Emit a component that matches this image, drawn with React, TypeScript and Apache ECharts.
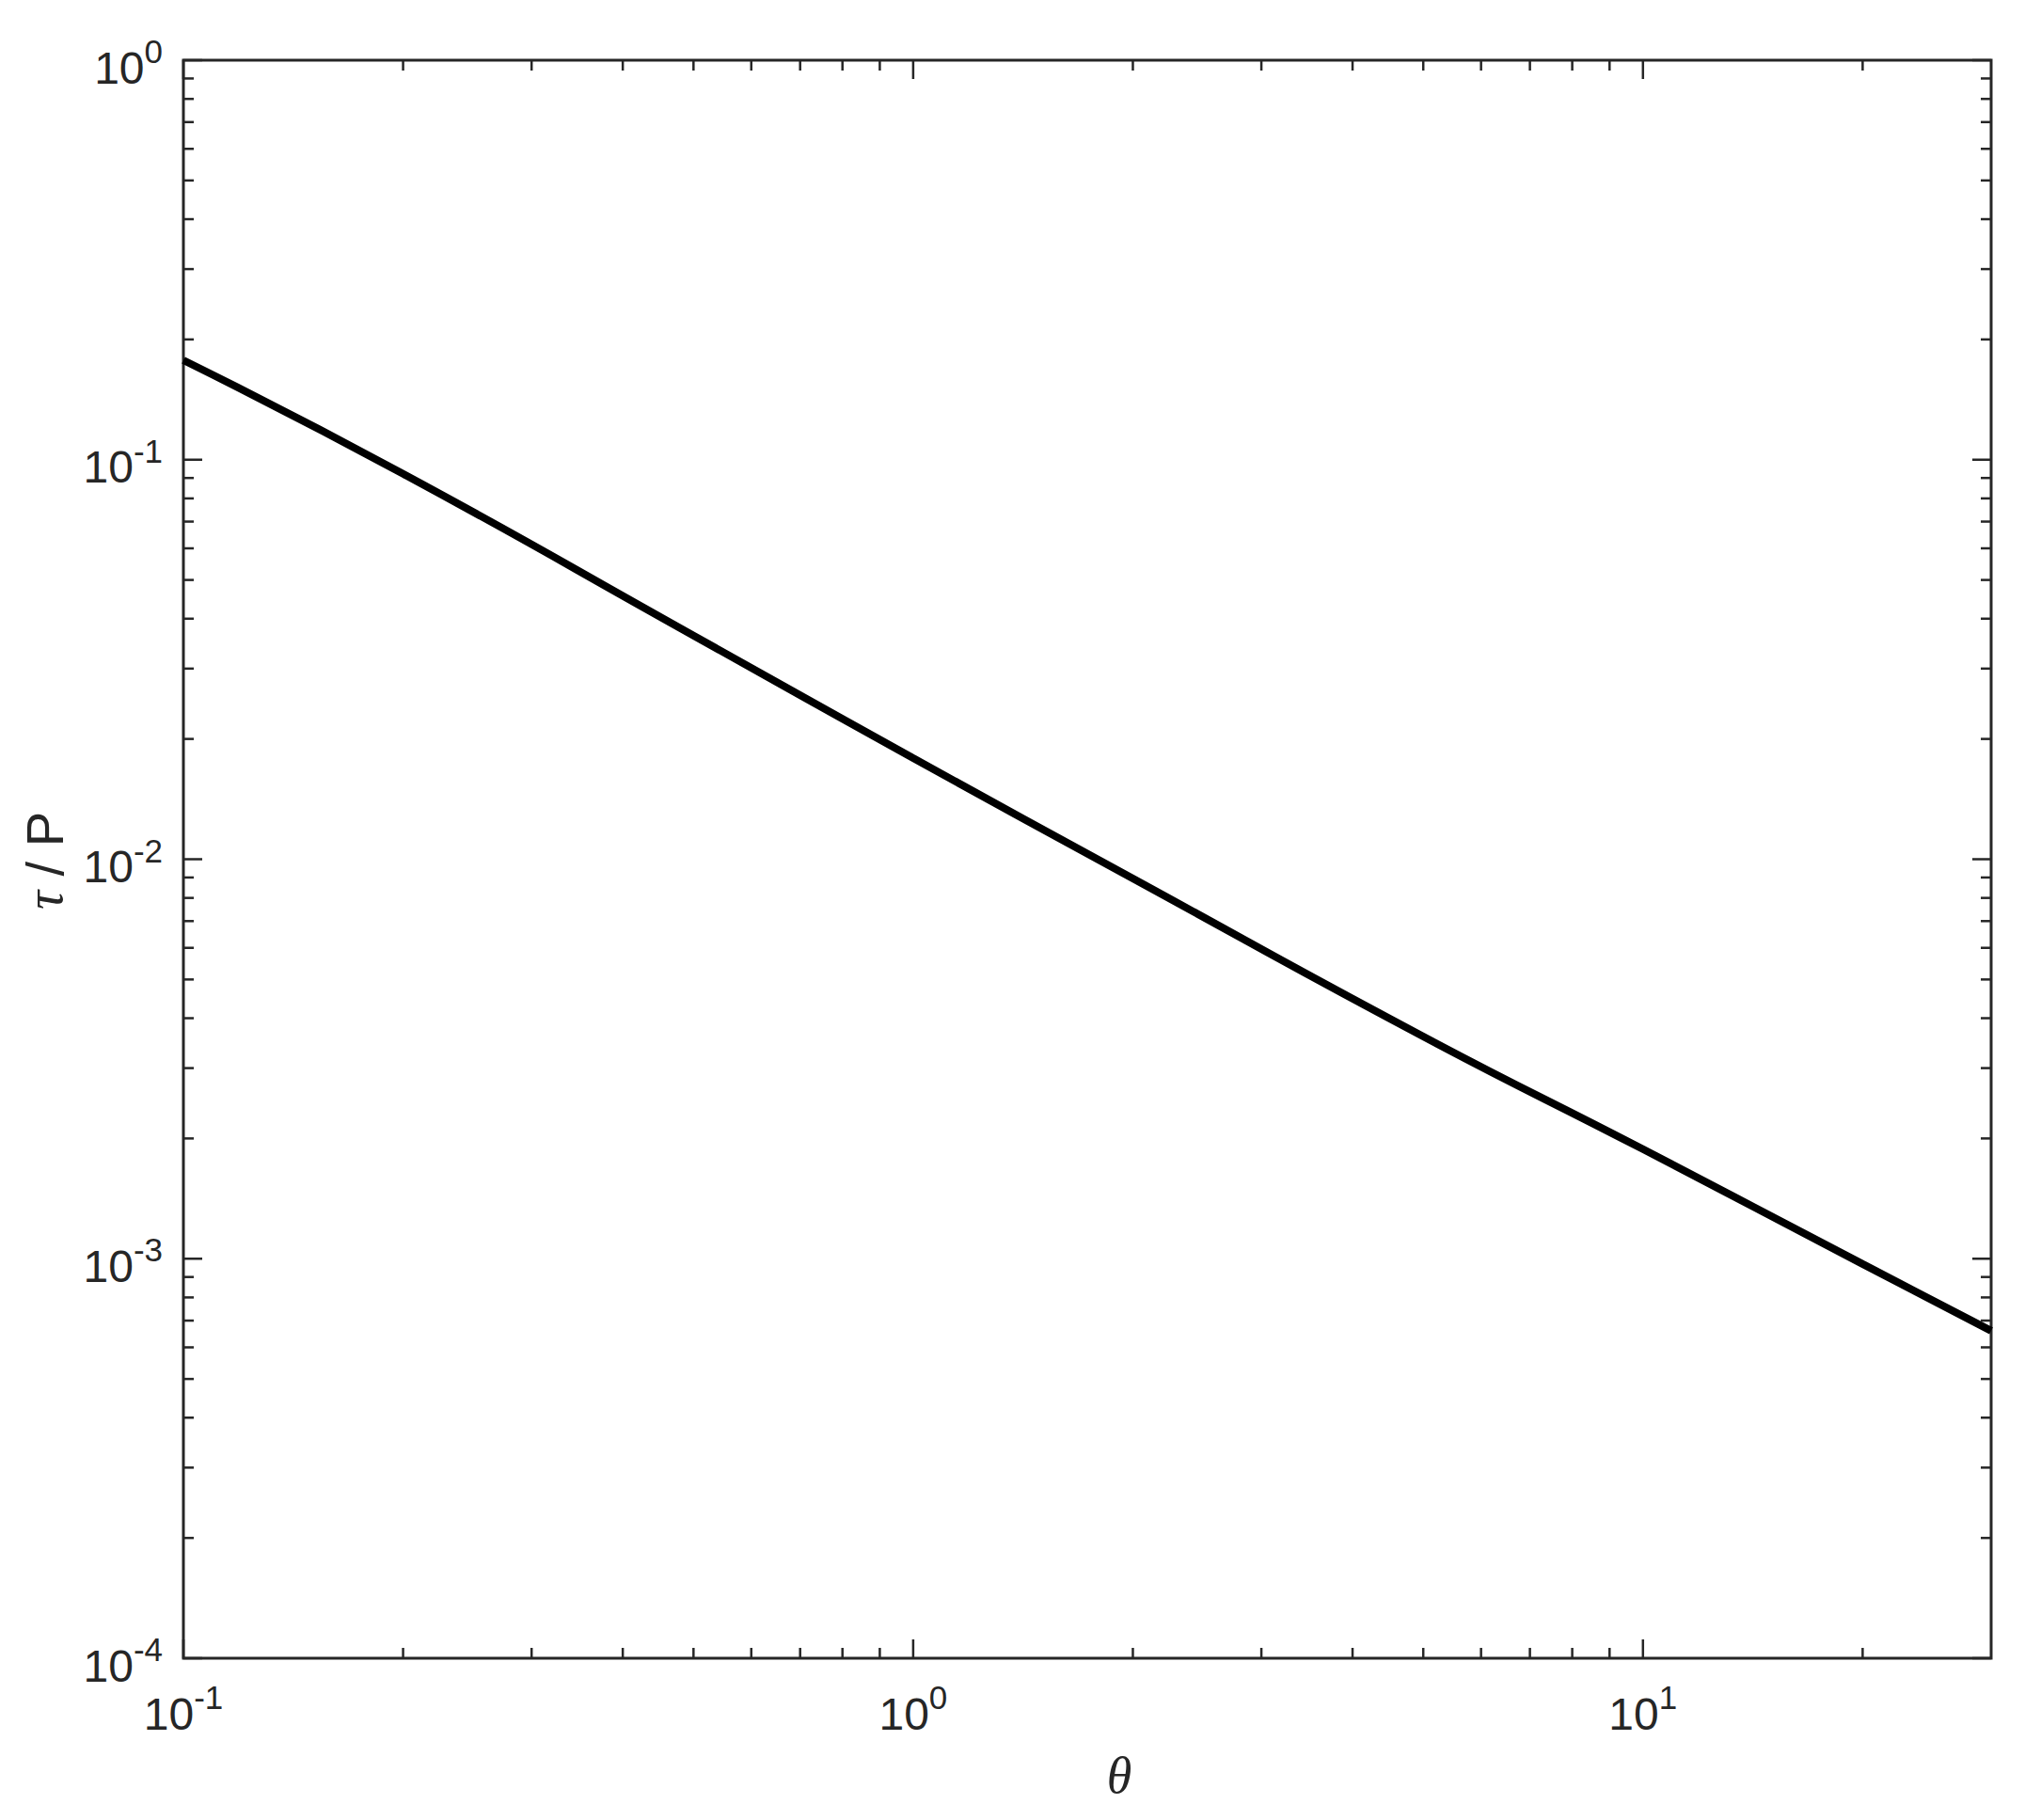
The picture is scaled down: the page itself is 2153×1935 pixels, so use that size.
import React, { useEffect, useRef } from 'react';
import * as echarts from 'echarts';

// Curve data
const thetaValues = [0.1, 0.2, 0.5, 1, 2, 5, 10, 20, 30];
const tauValues = [0.1774, 0.0922, 0.0363, 0.0179, 0.00895, 0.0036, 0.00188, 0.00097, 0.00066];

// Axis ranges
const X_MIN = 0.1;
const X_MAX = 30;
const Y_MIN = 0.0001;
const Y_MAX = 1;

// Ticks and tick labels
const xMajorTicks = [0.1, 1, 10];
const xMajorExponents = ['-1', '0', '1'];
const xMinorTicks = [0.2, 0.3, 0.4, 0.5, 0.6, 0.7, 0.8, 0.9, 2, 3, 4, 5, 6, 7, 8, 9, 20];
const yMajorTicks = [0.0001, 0.001, 0.01, 0.1, 1];
const yMajorExponents = ['-4', '-3', '-2', '-1', '0'];
const yMinorDecades = [0.0001, 0.001, 0.01, 0.1];
const yMinorMultipliers = [2, 3, 4, 5, 6, 7, 8, 9];

const AXIS_COLOR = '#262626';
const SANS = '"Liberation Sans", Arial, Helvetica, sans-serif';
const SERIF = '"Liberation Serif", "Times New Roman", Times, serif';
const BASE_SIZE = 48;
const SUP_SIZE = 35;
const MAJOR_LEN = 20;
const MINOR_LEN = 11;
const TICK_WIDTH = 2.5;

let measureCtx: CanvasRenderingContext2D | null = null;
function measure(text: string, size: number): number {
  if (!measureCtx) {
    const c = document.createElement('canvas');
    measureCtx = c.getContext('2d');
  }
  if (!measureCtx) return text.length * size * 0.556;
  measureCtx.font = `${size}px ${SANS}`;
  return measureCtx.measureText(text).width;
}

function textEl(text: string, x: number, y: number, size: number, align: string) {
  return {
    type: 'text',
    x,
    y,
    style: {
      text,
      fontSize: size,
      fontFamily: SANS,
      fill: AXIS_COLOR,
      align,
      verticalAlign: 'middle',
    },
  };
}

function lineEl(x1: number, y1: number, x2: number, y2: number) {
  return {
    type: 'line',
    shape: { x1, y1, x2, y2 },
    style: { stroke: AXIS_COLOR, lineWidth: TICK_WIDTH },
  };
}

export default function App() {
  const ref = useRef<HTMLDivElement>(null);

  useEffect(() => {
    if (!ref.current) return;
    const chart = echarts.init(ref.current, undefined, { renderer: 'svg' });

    const curve = thetaValues.map((t, i) => [t, tauValues[i]]);
    const xTickData = [
      ...xMajorTicks.map((v, i) => [v, Y_MIN, i]),
      ...xMinorTicks.map((v) => [v, Y_MIN, -1]),
    ];
    const yMinorTicks: number[] = [];
    yMinorDecades.forEach((d) => yMinorMultipliers.forEach((m) => yMinorTicks.push(d * m)));
    const yTickData = [
      ...yMajorTicks.map((v, i) => [X_MIN, v, i]),
      ...yMinorTicks.map((v) => [X_MIN, v, -1]),
    ];

    const option: any = {
      animation: false,
      backgroundColor: '#ffffff',
      grid: {
        left: 195,
        top: 64,
        width: 1922,
        height: 1699,
        show: true,
        borderColor: AXIS_COLOR,
        borderWidth: 3,
        backgroundColor: 'transparent',
      },
      xAxis: {
        type: 'log',
        logBase: 10,
        min: X_MIN,
        max: X_MAX,
        axisLine: { show: false },
        axisTick: { show: false },
        axisLabel: { show: false },
        splitLine: { show: false },
      },
      yAxis: {
        type: 'log',
        logBase: 10,
        min: Y_MIN,
        max: Y_MAX,
        axisLine: { show: false },
        axisTick: { show: false },
        axisLabel: { show: false },
        splitLine: { show: false },
      },
      series: [
        {
          type: 'line',
          data: curve,
          smooth: true,
          symbol: 'none',
          clip: true,
          lineStyle: { color: '#000000', width: 8 },
          z: 2,
        },
        {
          type: 'custom',
          data: xTickData,
          encode: { x: 0, y: 1 },
          clip: false,
          silent: true,
          z: 3,
          renderItem: (params: any, api: any) => {
            const v = api.value(0);
            const idx = api.value(2);
            const b = api.coord([v, Y_MIN]);
            const t = api.coord([v, Y_MAX]);
            const len = idx >= 0 ? MAJOR_LEN : MINOR_LEN;
            const children: any[] = [
              lineEl(b[0], b[1], b[0], b[1] - len),
              lineEl(t[0], t[1], t[0], t[1] + len),
            ];
            if (idx >= 0) {
              const sup = xMajorExponents[idx];
              const wb = measure('10', BASE_SIZE);
              const ws = measure(sup, SUP_SIZE);
              const left = b[0] - (wb + ws) / 2;
              children.push(textEl('10', left, b[1] + 59, BASE_SIZE, 'left'));
              children.push(textEl(sup, left + wb, b[1] + 41.5, SUP_SIZE, 'left'));
            }
            return { type: 'group', children };
          },
        },
        {
          type: 'custom',
          data: yTickData,
          encode: { x: 0, y: 1 },
          clip: false,
          silent: true,
          z: 3,
          renderItem: (params: any, api: any) => {
            const v = api.value(1);
            const idx = api.value(2);
            const l = api.coord([X_MIN, v]);
            const r = api.coord([X_MAX, v]);
            const len = idx >= 0 ? MAJOR_LEN : MINOR_LEN;
            const children: any[] = [
              lineEl(l[0], l[1], l[0] + len, l[1]),
              lineEl(r[0], r[1], r[0] - len, r[1]),
            ];
            if (idx >= 0) {
              const sup = yMajorExponents[idx];
              const ws = measure(sup, SUP_SIZE);
              const right = l[0] - 22;
              children.push(textEl(sup, right, l[1] - 9.5, SUP_SIZE, 'right'));
              children.push(textEl('10', right - ws, l[1] + 8, BASE_SIZE, 'right'));
            }
            return { type: 'group', children };
          },
        },
      ],
      graphic: [
        {
          type: 'text',
          x: 47,
          y: 915,
          rotation: Math.PI / 2,
          style: {
            text: '{t|τ}{r| / P}',
            align: 'center',
            verticalAlign: 'middle',
            fill: AXIS_COLOR,
            rich: {
              t: { fontFamily: SERIF, fontStyle: 'italic', fontSize: 56, fill: AXIS_COLOR },
              r: { fontFamily: SANS, fontSize: 56, fill: AXIS_COLOR },
            },
          },
        },
        {
          type: 'text',
          x: 1190,
          y: 1888,
          style: {
            text: 'θ',
            fontFamily: SERIF,
            fontStyle: 'italic',
            fontSize: 54,
            fill: AXIS_COLOR,
            align: 'center',
            verticalAlign: 'middle',
          },
        },
      ],
    };

    chart.setOption(option);
    return () => {
      chart.dispose();
    };
  }, []);

  return (
    <div
      ref={ref}
      style={{ position: 'fixed', left: 0, top: 0, width: 2153, height: 1935, background: '#fff' }}
    />
  );
}
